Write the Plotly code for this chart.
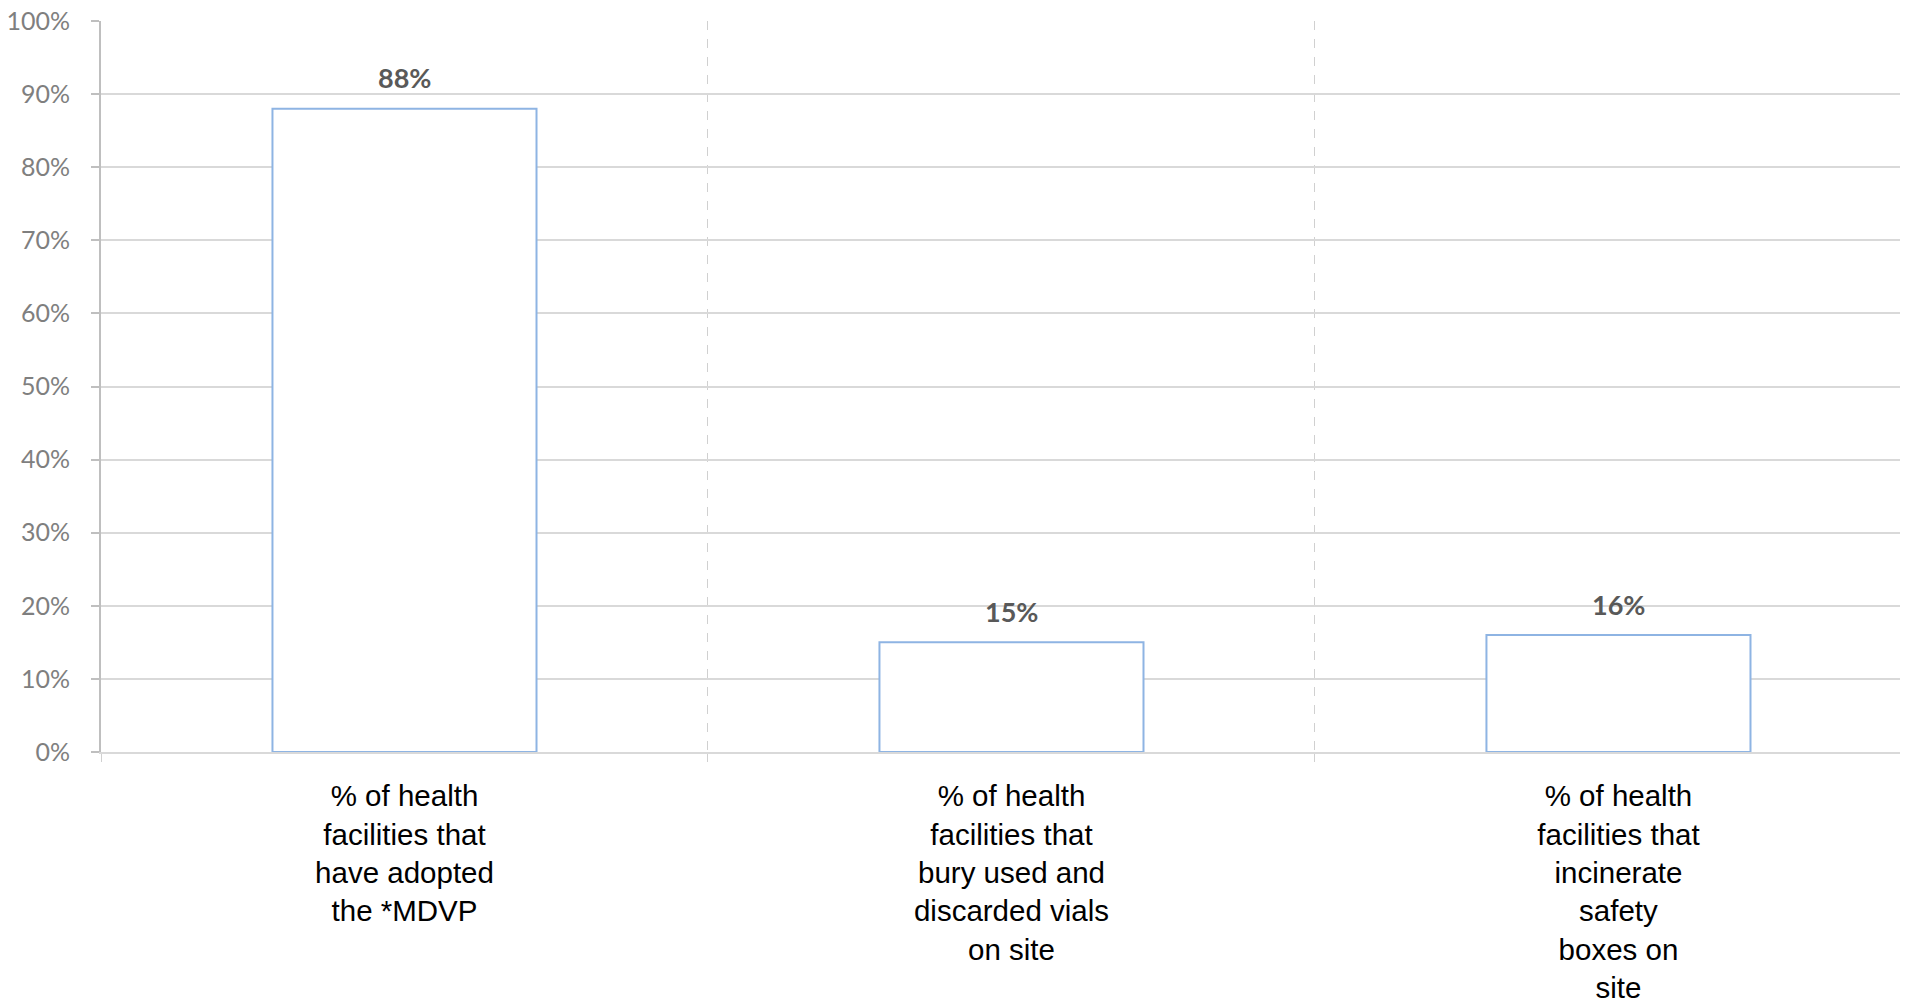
import plotly.graph_objects as go

categories = [
    "% of health<br>facilities that<br>have adopted<br>the *MDVP",
    "% of health<br>facilities that<br>bury used and<br>discarded vials<br>on site",
    "% of health<br>facilities that<br>incinerate<br>safety<br>boxes on<br>site",
]
values = [0.88, 0.15, 0.16]
y_ticks = [0, 0.1, 0.2, 0.3, 0.4, 0.5, 0.6, 0.7, 0.8, 0.9, 1.0]

fig = go.Figure()
fig.add_trace(go.Bar(
    x=categories, y=values, width=0.435,
    marker=dict(color="white", line=dict(color="#8eb4e3", width=2)),
    hoverinfo="skip",
))

for c, v in zip(categories, values):
    fig.add_annotation(
        x=c, y=v, text=f"{round(v*100)}%", showarrow=False,
        yanchor="middle", yshift=31,
        font=dict(family="Lato", size=27, color="#595959", weight="bold"),
    )

fig.update_layout(
    width=1900, height=992,
    margin=dict(l=93, r=0, t=13, b=248),
    plot_bgcolor="white", paper_bgcolor="white",
    showlegend=False,
    xaxis=dict(
        type="category",
        range=[-0.5, 2.477],
        automargin=False,
        tickson="boundaries",
        ticks="outside", ticklen=8, tickcolor="#d0d0d0", tickwidth=1,
        showgrid=True, gridcolor="#d0d0d0", griddash="dash", gridwidth=1,
        showline=True, linecolor="#d9d9d9", linewidth=2,
        tickfont=dict(family="Liberation Sans", size=29.5, color="black"),
        ticklabelstandoff=17,
        ticklabeloverflow="allow",
    ),
    yaxis=dict(
        range=[0, 1],
        automargin=False,
        tickvals=y_ticks,
        tickformat=".0%",
        showgrid=True, gridcolor="#d9d9d9", gridwidth=2,
        zeroline=False,
        showline=True, linecolor="#bfbfbf", linewidth=2,
        ticks="outside", ticklen=8, tickcolor="#bfbfbf", tickwidth=2,
        tickfont=dict(family="Lato", size=25, color="#7f7f7f"),
        ticklabelstandoff=16,
        ticklabeloverflow="allow",
    ),
)

fig.write_html("out.html")
